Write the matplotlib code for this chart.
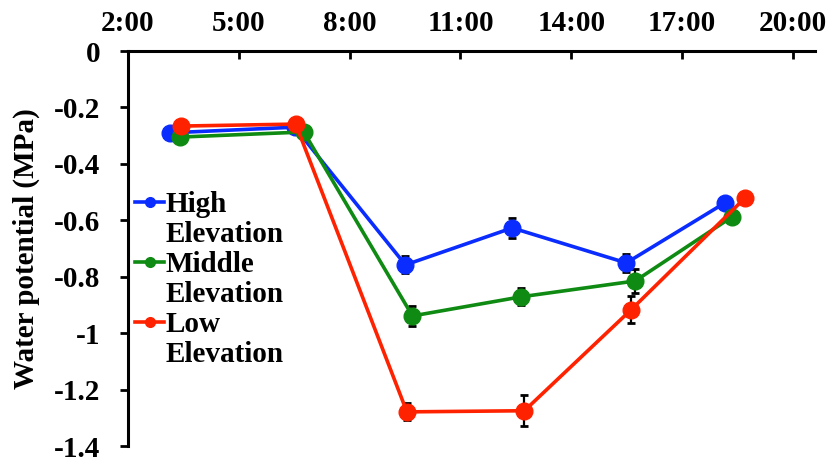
import matplotlib
matplotlib.use("Agg")
import matplotlib.pyplot as plt
from matplotlib.lines import Line2D

# sampling times (decimal hours) and water potential (MPa)
high_t = [3.14, 6.51, 9.51, 12.40, 15.49, 18.16]
high_v = [-0.29, -0.27, -0.758, -0.627, -0.751, -0.538]
high_err = [0.005, 0.005, 0.03, 0.035, 0.032, 0.02]

mid_t = [3.41, 6.76, 9.70, 12.65, 15.73, 18.35]
mid_v = [-0.305, -0.287, -0.939, -0.871, -0.815, -0.588]
mid_err = [0.005, 0.005, 0.035, 0.03, 0.042, 0.01]

low_t = [3.43, 6.54, 9.55, 12.73, 15.62, 18.70]
low_v = [-0.266, -0.259, -1.279, -1.275, -0.917, -0.521]
low_err = [0.005, 0.005, 0.03, 0.055, 0.048, 0.005]

x_ticks = [2, 5, 8, 11, 14, 17, 20]
x_tick_labels = ["2:00", "5:00", "8:00", "11:00", "14:00", "17:00", "20:00"]
y_ticks = [0, -0.2, -0.4, -0.6, -0.8, -1.0, -1.2, -1.4]
y_tick_labels = ["0", "-0.2", "-0.4", "-0.6", "-0.8", "-1", "-1.2", "-1.4"]

series = [
    ("High", high_t, high_v, high_err, "#0a2cff"),
    ("Middle", mid_t, mid_v, mid_err, "#0f8a12"),
    ("Low", low_t, low_v, low_err, "#ff2200"),
]

plt.rcParams["font.family"] = ["Liberation Serif", "DejaVu Serif"]
plt.rcParams["font.weight"] = "bold"

fig = plt.figure(figsize=(8.36, 4.63), dpi=100)
ax = fig.add_axes([0.1531, 0.0367, 0.975 - 0.1531, 0.8898 - 0.0367])

for name, t, v, err, col in series:
    ax.errorbar(t, v, yerr=err, fmt="none", ecolor="black", elinewidth=1.6,
                capsize=2.6, capthick=2, zorder=2)
    ax.plot(t, v, color=col, lw=2.6, marker="o", ms=12, zorder=3)

ax.set_xlim(2, 20.6)
ax.set_ylim(-1.4, 0)

ax.xaxis.tick_top()
ax.set_xticks(x_ticks)
ax.set_xticklabels(x_tick_labels, fontsize=21, fontweight="bold")
ax.set_yticks(y_ticks)
ax.set_yticklabels(y_tick_labels, fontsize=21, fontweight="bold")
ax.tick_params(axis="x", direction="in", length=6, width=2, pad=10)
ax.tick_params(axis="y", direction="out", length=6, width=2, pad=14)

for s in ["right", "bottom"]:
    ax.spines[s].set_visible(False)
for s in ["top", "left"]:
    ax.spines[s].set_linewidth(2.2)

ax.set_ylabel("Water potential (MPa)", fontsize=21, fontweight="bold")
ax.yaxis.set_label_coords(-0.128, 0.5)

# legend: one line per word row, second row without a handle
handles, labels = [], []
for name, t, v, err, col in series:
    handles.append(Line2D([], [], color=col, lw=2.6, marker="o", ms=7))
    labels.append(name)
    handles.append(Line2D([], [], linestyle="none", marker="none"))
    labels.append("Elevation")
ax.legend(handles, labels, loc="upper left", bbox_to_anchor=(0.0102, 0.645),
          frameon=False, borderpad=0, borderaxespad=0, handlelength=1.0,
          handletextpad=0.05, labelspacing=0.1,
          prop={"size": 21, "weight": "bold"})

fig.savefig("out.png", dpi=100)
